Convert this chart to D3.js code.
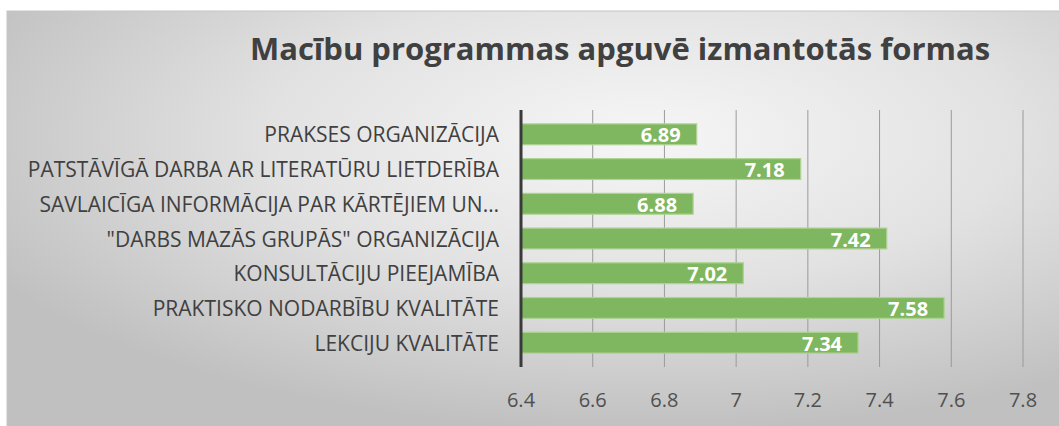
<html>
<head>
<meta charset="utf-8">
<script src="https://cdn.jsdelivr.net/npm/d3@7"></script>
<style>
  body { margin:0; background:#fff; }
</style>
</head>
<body>
<svg class="chart"></svg>
<script>
// chart data
var categories = [
  "PRAKSES ORGANIZĀCIJA",
  "PATSTĀVĪGĀ DARBA AR LITERATŪRU LIETDERĪBA",
  "SAVLAICĪGA INFORMĀCIJA PAR KĀRTĒJIEM UN…",
  "\"DARBS MAZĀS GRUPĀS\" ORGANIZĀCIJA",
  "KONSULTĀCIJU PIEEJAMĪBA",
  "PRAKTISKO NODARBĪBU KVALITĀTE",
  "LEKCIJU KVALITĀTE"
];
var values = [6.89, 7.18, 6.88, 7.42, 7.02, 7.58, 7.34];
var ticks = [6.4, 6.6, 6.8, 7, 7.2, 7.4, 7.6, 7.8];
var title = "Macību programmas apguvē izmantotās formas";

var W = 1059, H = 426;
var svg = d3.select(".chart").attr("width", W).attr("height", H);

// background panel
var defs = svg.append("defs");
var grad = defs.append("radialGradient").attr("id", "bg")
  .attr("cx", "0.6").attr("cy", "0.3").attr("r", "0.7");
grad.append("stop").attr("offset", "0%").attr("stop-color", "#f6f6f6");
grad.append("stop").attr("offset", "50%").attr("stop-color", "#e2e2e2");
grad.append("stop").attr("offset", "100%").attr("stop-color", "#c0c0c0");

svg.append("rect").attr("x", 7).attr("y", 11).attr("width", 1060).attr("height", 420)
  .attr("fill", "url(#bg)").attr("stroke", "#c6c6c6");

var x = d3.scaleLinear().domain([6.4, 7.8]).range([521, 1023]);
var y = d3.scaleBand().domain(categories).range([110, 367]).padding(0.4);

// gridlines
svg.append("g").selectAll("line").data(ticks.slice(1)).enter().append("line")
  .attr("x1", d => x(d)).attr("x2", d => x(d))
  .attr("y1", 110).attr("y2", 367)
  .attr("stroke", "#9a9a9a").attr("stroke-width", 1);

// tick labels
svg.append("g").selectAll("text").data(ticks).enter().append("text")
  .attr("x", d => x(d)).attr("y", 407)
  .attr("text-anchor", "middle")
  .style("font-family", "'Open Sans', sans-serif").style("font-size", "20px")
  .style("fill", "#505050")
  .text(d => d);

// bars
var bar = svg.append("g").selectAll("g").data(values).enter().append("g");
bar.append("rect")
  .attr("x", x(6.4))
  .attr("y", (d, i) => y(categories[i]))
  .attr("width", d => x(d) - x(6.4))
  .attr("height", y.bandwidth())
  .attr("fill", "#7fb660")
  .attr("stroke", "#aed393").attr("stroke-width", 1.2);

bar.append("text")
  .attr("x", d => x(d) - 16)
  .attr("y", (d, i) => y(categories[i]) + y.bandwidth() / 2 + 8)
  .attr("text-anchor", "end")
  .style("font-family", "'Open Sans', sans-serif").style("font-size", "20px")
  .style("font-weight", "bold").style("fill", "#fff")
  .text(d => d.toFixed(2));

// category labels
svg.append("g").selectAll("text").data(categories).enter().append("text")
  .attr("x", 499)
  .attr("y", d => y(d) + y.bandwidth() / 2 + 8)
  .attr("text-anchor", "end")
  .style("font-family", "'Open Sans', sans-serif").style("font-size", "21px")
  .style("fill", "#404040")
  .text(d => d);

// axis line
svg.append("line").attr("x1", x(6.4)).attr("x2", x(6.4))
  .attr("y1", 110).attr("y2", 367)
  .attr("stroke", "#3a3a3a").attr("stroke-width", 3);

// title
svg.append("text").attr("x", 620).attr("y", 60)
  .attr("text-anchor", "middle")
  .style("font-family", "'Open Sans', sans-serif").style("font-size", "31px")
  .style("font-weight", "bold").style("fill", "#404040")
  .text(title);
</script>
</body>
</html>
